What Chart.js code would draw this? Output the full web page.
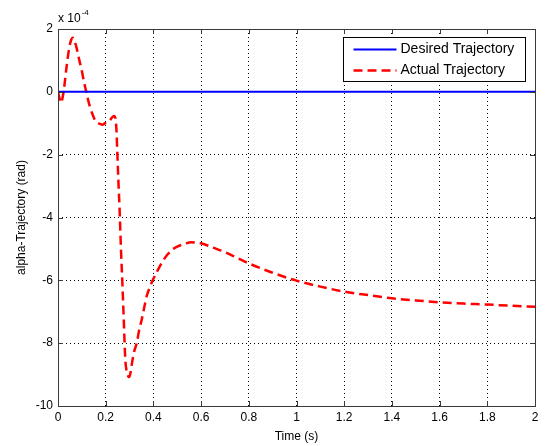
<html lang="en">
<head>
<meta charset="UTF-8" />
<title>alpha trajectory</title>
<style>
    body { margin: 0; background: #fff; }
    #wrap { width: 546px; height: 446px; }
</style>
</head>
<body>
<div id="wrap">
    <canvas id="myChart" width="546" height="446"></canvas>
</div>

<script src="https://cdn.jsdelivr.net/npm/chart.js"></script>
<script>
    // data (y values in units of 1e-4 rad)
    const desiredTime = [0, 2];
    const desiredValue = [0, 0];

    const actualTime = [0, 0.008, 0.014, 0.02, 0.026, 0.036, 0.046, 0.055, 0.062, 0.07, 0.078, 0.088, 0.099,
        0.108, 0.117, 0.126, 0.134, 0.145, 0.155, 0.165, 0.176, 0.186, 0.197, 0.207, 0.216, 0.226, 0.235,
        0.241, 0.245, 0.249, 0.253, 0.258, 0.264, 0.27, 0.276, 0.282, 0.288, 0.294, 0.299, 0.305, 0.312,
        0.32, 0.33, 0.34, 0.351, 0.362, 0.372, 0.386, 0.4, 0.42, 0.44, 0.46, 0.48, 0.5, 0.53, 0.56, 0.6,
        0.65, 0.7, 0.75, 0.8, 0.9, 1.0, 1.1, 1.2, 1.3, 1.4, 1.5, 1.6, 1.7, 1.8, 1.9, 2.0];
    const actualValue = [0, -0.25, -0.35, -0.15, 0.15, 0.8, 1.35, 1.65, 1.72, 1.6, 1.4, 1.05, 0.7,
        0.35, 0.05, -0.25, -0.48, -0.72, -0.9, -0.98, -1.02, -1.05, -1.0, -0.98, -0.93, -0.82, -0.77,
        -0.85, -1.2, -2.0, -2.8, -3.7, -5.0, -6.1, -7.3, -8.5, -8.9, -9.05, -9.08, -8.9, -8.55,
        -8.25, -8.0, -7.6, -7.25, -6.85, -6.5, -6.2, -5.95, -5.65, -5.38, -5.17, -5.02, -4.93, -4.84, -4.79, -4.82,
        -4.96, -5.1, -5.28, -5.46, -5.76, -6.01, -6.2, -6.36, -6.47, -6.57, -6.64, -6.7, -6.74, -6.77, -6.81, -6.84];

    const yTicks = [2, 0, -2, -4, -6, -8, -10];
    const xTicks = [0, 0.2, 0.4, 0.6, 0.8, 1, 1.2, 1.4, 1.6, 1.8, 2];

    const FONT = 'Arial, "Liberation Sans", sans-serif';

    const pts = (xs, ys) => xs.map((x, i) => ({ x: x, y: ys[i] }));

    // frame, inward ticks, exponent label and the boxed legend
    const matlabAxes = {
        id: 'matlabAxes',
        afterDatasetsDraw(chart) {
            const { ctx, chartArea: a, scales: { x, y } } = chart;
            ctx.save();
            ctx.strokeStyle = '#3a3a3a';
            ctx.lineWidth = 1;
            ctx.setLineDash([]);
            ctx.beginPath();
            xTicks.forEach(v => {
                const px = Math.round(x.getPixelForValue(v)) + 0.5;
                ctx.moveTo(px, a.bottom); ctx.lineTo(px, a.bottom - 5);
                ctx.moveTo(px, a.top); ctx.lineTo(px, a.top + 5);
            });
            yTicks.forEach(v => {
                const py = Math.round(y.getPixelForValue(v)) + 0.5;
                ctx.moveTo(a.left, py); ctx.lineTo(a.left + 5, py);
                ctx.moveTo(a.right, py); ctx.lineTo(a.right - 5, py);
            });
            ctx.stroke();
            ctx.strokeRect(Math.round(a.left) + 0.5, Math.round(a.top) + 0.5,
                Math.round(a.right - a.left), Math.round(a.bottom - a.top));

            // x 10^-4
            ctx.fillStyle = '#000';
            ctx.textBaseline = 'alphabetic';
            ctx.textAlign = 'left';
            ctx.font = '12px ' + FONT;
            ctx.fillText('x 10', a.left, a.top - 7);
            const w = ctx.measureText('x 10').width;
            ctx.font = '8px ' + FONT;
            ctx.fillText('-4', a.left + w + 1, a.top - 14);

            // legend
            const bx = 343.5, by = 37.5, bw = 182, bh = 44;
            ctx.fillStyle = '#fff';
            ctx.fillRect(bx, by, bw, bh);
            ctx.strokeStyle = '#000';
            ctx.strokeRect(bx, by, bw, bh);
            ctx.font = '14px ' + FONT;
            ctx.textBaseline = 'middle';
            chart.data.datasets.forEach((ds, i) => {
                const ly = by + 12 + i * 21;
                ctx.strokeStyle = ds.borderColor;
                ctx.lineWidth = ds.borderWidth;
                ctx.setLineDash(ds.borderDash || []);
                ctx.beginPath();
                ctx.moveTo(bx + 10, ly);
                ctx.lineTo(bx + 53, ly);
                ctx.stroke();
                ctx.fillStyle = '#000';
                ctx.fillText(ds.label, bx + 57, ly);
            });
            ctx.restore();
        }
    };

    const ctx = document.querySelector('#myChart');
    const myChart = new Chart(ctx, {
        type: 'line',
        data: {
            datasets: [{
                label: 'Desired Trajectory',
                data: pts(desiredTime, desiredValue),
                borderColor: '#0000ff',
                borderWidth: 2,
                pointRadius: 0,
                fill: false
            }, {
                label: 'Actual Trajectory',
                data: pts(actualTime, actualValue),
                borderColor: '#ff0000',
                borderWidth: 2.5,
                borderDash: [9, 5],
                pointRadius: 0,
                fill: false,
                cubicInterpolationMode: 'monotone'
            }]
        },
        options: {
            responsive: false,
            animation: false,
            layout: { padding: { top: 29, right: 11, left: 0, bottom: 0 } },
            plugins: {
                legend: { display: false },
                tooltip: { enabled: false }
            },
            scales: {
                x: {
                    type: 'linear',
                    min: 0,
                    max: 2,
                    afterFit: s => { s.height = 40; },
                    afterBuildTicks: s => { s.ticks = xTicks.map(v => ({ value: v })); },
                    ticks: {
                        color: '#000',
                        font: { family: FONT, size: 12 },
                        padding: 4,
                        maxRotation: 0,
                        callback: v => String(+v.toFixed(1))
                    },
                    grid: { color: '#000', lineWidth: 1, drawTicks: false },
                    border: { display: false, dash: [1, 3] },
                    title: {
                        display: true,
                        text: 'Time (s)',
                        color: '#000',
                        font: { family: FONT, size: 12 },
                        padding: { top: 0, bottom: 2 }
                    }
                },
                y: {
                    min: -10,
                    max: 2,
                    afterFit: s => { s.width = 58; },
                    afterBuildTicks: s => { s.ticks = yTicks.map(v => ({ value: v })); },
                    ticks: {
                        color: '#000',
                        font: { family: FONT, size: 12 },
                        padding: 5
                    },
                    grid: { color: '#000', lineWidth: 1, drawTicks: false },
                    border: { display: false, dash: [1, 3] },
                    title: {
                        display: true,
                        text: 'alpha-Trajectory (rad)',
                        color: '#000',
                        font: { family: FONT, size: 12 },
                        padding: { top: 14, bottom: 0 }
                    }
                }
            }
        },
        plugins: [matlabAxes]
    });
</script>
</body>
</html>
